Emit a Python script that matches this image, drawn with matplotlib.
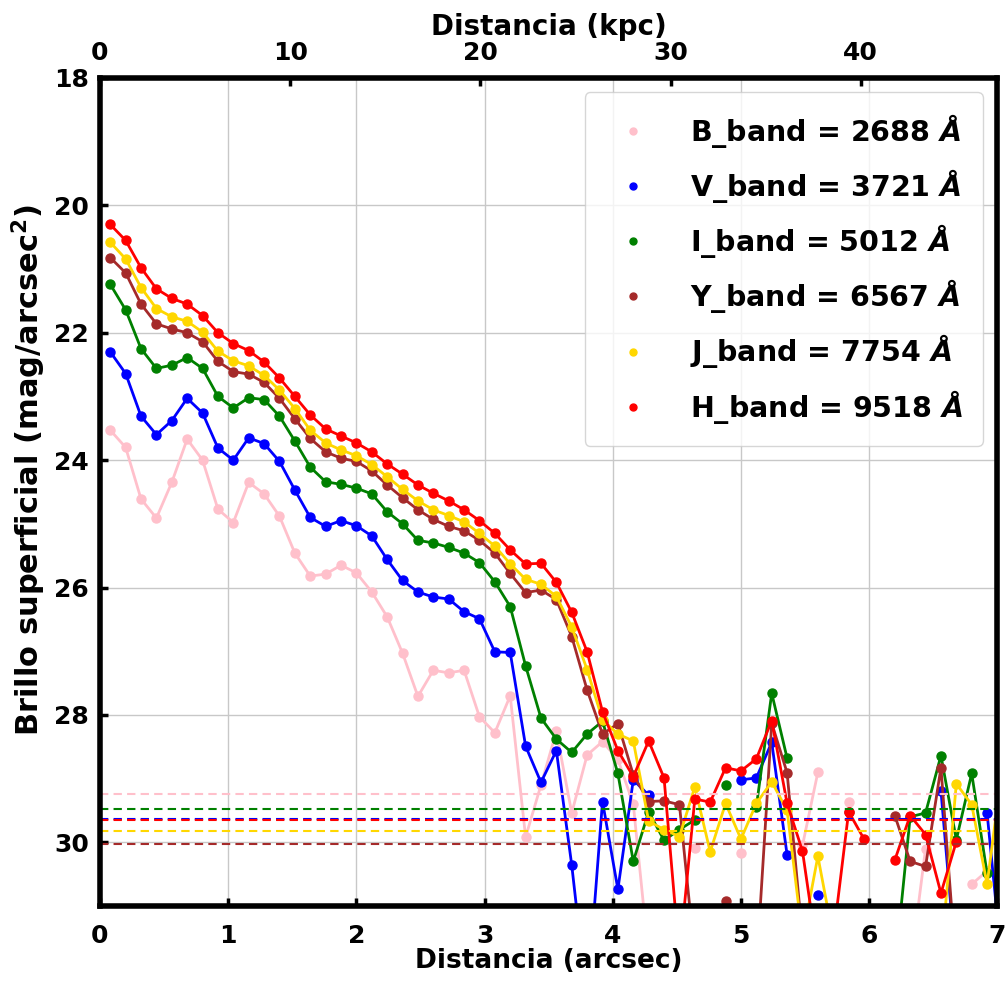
import numpy as np
import matplotlib
matplotlib.use('Agg')
import matplotlib.pyplot as plt
from matplotlib.lines import Line2D

plt.rcParams['mathtext.fontset'] = 'custom'
plt.rcParams['mathtext.it'] = 'DejaVu Sans:italic:bold'
plt.rcParams['mathtext.rm'] = 'DejaVu Sans:bold'

nan = np.nan

# radio en arcsec (centro de cada anillo)
radio = [0.08, 0.20, 0.32, 0.44, 0.56, 0.68, 0.80, 0.92, 1.04, 1.16,
         1.28, 1.40, 1.52, 1.64, 1.76, 1.88, 2.00, 2.12, 2.24, 2.36,
         2.48, 2.60, 2.72, 2.84, 2.96, 3.08, 3.20, 3.32, 3.44, 3.56,
         3.68, 3.80, 3.92, 4.04, 4.16, 4.28, 4.40, 4.52, 4.64, 4.76,
         4.88, 5.00, 5.12, 5.24, 5.36, 5.48, 5.60, 5.72, 5.84, 5.96,
         6.08, 6.20, 6.32, 6.44, 6.56, 6.68, 6.80, 6.92, 7.04]

mu_B = [23.53, 23.80, 24.61, 24.91, 24.35, 23.67, 24.00, 24.77, 24.98, 24.35,
        24.53, 24.88, 25.46, 25.82, 25.79, 25.65, 25.77, 26.07, 26.46, 27.03,
        27.71, 27.30, 27.34, 27.30, 28.03, 28.28, 27.70, 29.92, 29.10, 28.26,
        29.54, 28.63, 28.42, 28.70, 29.40, 31.80, nan, nan, 30.09, nan,
        nan, 30.17, nan, nan, nan, 30.05, 28.90, nan, 29.36, nan,
        nan, nan, 32.00, 30.10, nan, nan, 30.66, 30.45, nan]

mu_V = [22.30, 22.64, 23.31, 23.60, 23.38, 23.03, 23.26, 23.81, 24.00, 23.65,
        23.74, 24.02, 24.47, 24.90, 25.04, 24.95, 25.03, 25.19, 25.56, 25.89,
        26.07, 26.15, 26.18, 26.38, 26.49, 27.01, 27.02, 28.49, 29.06, 28.56,
        30.36, 32.50, 29.36, 30.74, 29.02, 29.26, nan, nan, nan, nan,
        nan, 29.02, 28.99, 28.43, 30.20, nan, 30.83, nan, nan, nan,
        nan, nan, nan, nan, 29.19, 32.00, nan, 29.54, 32.00]

mu_I = [21.24, 21.64, 22.25, 22.56, 22.51, 22.39, 22.56, 23.00, 23.18, 23.02,
        23.05, 23.31, 23.70, 24.11, 24.34, 24.38, 24.44, 24.53, 24.81, 25.00,
        25.26, 25.30, 25.37, 25.46, 25.61, 25.91, 26.30, 27.23, 28.05, 28.38,
        28.59, 28.30, 28.10, 28.92, 30.30, 29.52, 29.97, 29.80, 29.65, nan,
        29.10, nan, 29.44, 27.66, 28.68, nan, nan, nan, nan, nan,
        nan, 32.00, 29.60, 29.54, 28.64, 29.96, 28.92, 30.49, nan]

mu_Y = [20.82, 21.06, 21.55, 21.86, 21.94, 22.00, 22.14, 22.45, 22.61, 22.65,
        22.78, 23.03, 23.35, 23.66, 23.87, 23.97, 24.02, 24.17, 24.39, 24.59,
        24.78, 24.93, 25.04, 25.11, 25.26, 25.46, 25.78, 26.08, 26.04, 26.19,
        26.77, 27.61, 28.30, 28.14, 28.94, 29.36, 29.35, 29.41, 31.80, nan,
        30.93, nan, 32.00, 28.13, 28.91, 31.50, nan, nan, 29.52, nan,
        nan, 29.58, 30.30, 30.38, 28.83, 32.00, nan, nan, nan]

mu_J = [20.58, 20.84, 21.29, 21.62, 21.75, 21.82, 21.99, 22.29, 22.44, 22.52,
        22.67, 22.90, 23.19, 23.53, 23.73, 23.84, 23.93, 24.07, 24.26, 24.46,
        24.64, 24.78, 24.87, 24.97, 25.15, 25.35, 25.63, 25.87, 25.95, 26.14,
        26.62, 27.29, 28.08, 28.30, 28.41, 29.67, 29.80, 29.91, 29.13, 30.15,
        29.39, 29.95, 29.39, 29.05, 29.50, 31.50, 30.22, 31.50, nan, nan,
        nan, nan, nan, nan, 31.80, 29.08, 29.41, 30.66, 28.80]

mu_H = [20.30, 20.55, 20.98, 21.31, 21.46, 21.55, 21.73, 22.00, 22.17, 22.28,
        22.46, 22.71, 23.00, 23.29, 23.51, 23.62, 23.73, 23.87, 24.06, 24.22,
        24.39, 24.52, 24.64, 24.78, 24.95, 25.15, 25.41, 25.63, 25.62, 25.92,
        26.39, 27.01, 27.95, 28.56, 28.97, 28.41, 28.99, 31.80, 29.32, 29.37,
        28.83, 28.88, 28.69, 28.09, 29.39, 30.14, 31.80, 31.50, 29.52, 29.95,
        nan, 30.28, 29.58, 29.88, 30.80, 29.99, nan, nan, nan]

bandas = ['B_band', 'V_band', 'I_band', 'Y_band', 'J_band', 'H_band']
lambdas = [2688, 3721, 5012, 6567, 7754, 9518]
colores = ['pink', 'blue', 'green', 'brown', 'gold', 'red']
# brillo limite de cada banda (lineas a trazos)
mu_lim = [29.25, 29.63, 29.47, 30.03, 29.83, 29.65]

perfiles = [mu_B, mu_V, mu_I, mu_Y, mu_J, mu_H]
kpc_por_arcsec = 6.74

fig = plt.figure(figsize=(10.06, 9.81), dpi=100)
ax = fig.add_axes([0.0994, 0.0765, 0.892, 0.844])

for mu, c in zip(perfiles, colores):
    ax.plot(radio, mu, '-o', color=c, lw=2, ms=6.5)

for lim, c in zip(mu_lim, colores):
    ax.axhline(lim, color=c, ls='--', lw=1.5, dashes=(4, 2.5))

ax.set_xlim(0, 7)
ax.set_ylim(31, 18)
ax.set_xticks(range(0, 8))
ax.set_yticks(range(18, 31, 2))
ax.grid(True, color='#c8c8c8', lw=1)
ax.set_axisbelow(True)
ax.tick_params(direction='in', length=6, width=2.5, labelsize=18, pad=8)
ax.tick_params(axis='x', pad=13)
for lab in ax.get_xticklabels() + ax.get_yticklabels():
    lab.set_fontweight('bold')
for sp in ax.spines.values():
    sp.set_linewidth(4)
ax.set_xlabel('Distancia (arcsec)', fontsize=19, fontweight='bold', labelpad=0)
ax.set_ylabel('Brillo superficial (mag/arcsec$^2$)', fontsize=22, fontweight='bold')
ax.yaxis.set_label_coords(-0.058, 0.527)

ax2 = ax.twiny()
ax2.set_xlim(0, 7 * kpc_por_arcsec)
ax2.set_xticks([0, 10, 20, 30, 40])
ax2.tick_params(direction='in', length=6, width=2.5, labelsize=18, pad=9)
for lab in ax2.get_xticklabels():
    lab.set_fontweight('bold')
ax2.set_xlabel('Distancia (kpc)', fontsize=20, fontweight='bold', labelpad=5)

handles = [Line2D([], [], ls='', marker='o', color=c, ms=5) for c in colores]
labels = [f'{b} = {l} $\\AA$' for b, l in zip(bandas, lambdas)]
ax.legend(handles, labels, loc='upper right', prop={'weight': 'bold', 'size': 20.5},
          labelspacing=0.6, handletextpad=1.0, borderpad=0.7, framealpha=0.8)

fig.savefig('out.png', dpi=100)
